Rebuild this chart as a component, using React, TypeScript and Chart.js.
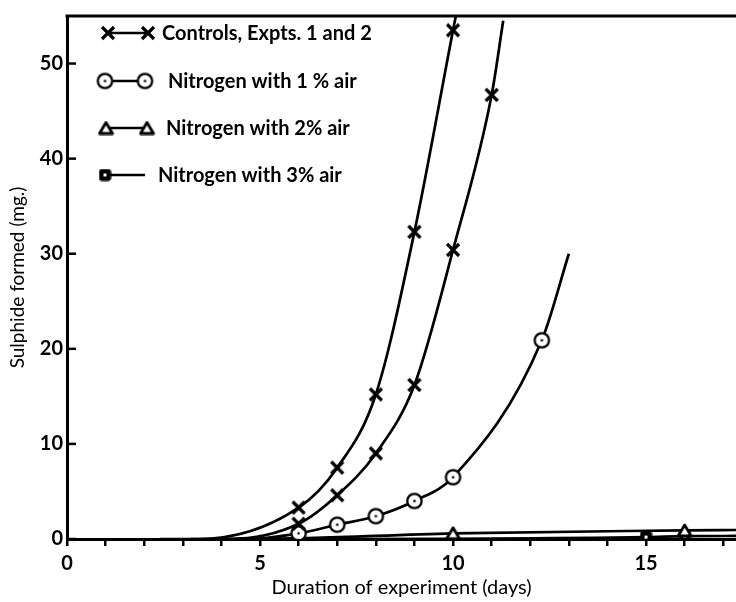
import { useEffect, useRef } from 'react';
import { Chart, registerables } from 'chart.js';

Chart.register(...registerables);

// ---- data ----
// Controls, Expt. 1 (upper curve)
const ctrl1Days = [6, 7, 8, 9, 10];
const ctrl1Sulphide = [3.3, 7.5, 15.2, 32.3, 53.5];
const ctrl1CurveStart = 3.4;
const ctrl1CurveEnd = [10.12, 56];
// Controls, Expt. 2 (lower curve)
const ctrl2Days = [6, 7, 8, 9, 10, 11];
const ctrl2Sulphide = [1.6, 4.6, 9.0, 16.2, 30.4, 46.7];
const ctrl2CurveStart = 4.2;
const ctrl2CurveEnd = [11.3, 54.5];
// Nitrogen with 1% air
const n1Days = [6, 7, 8, 9, 10, 12.3];
const n1Sulphide = [0.6, 1.5, 2.4, 4.0, 6.5, 20.9];
const n1CurveStart = 4.7;
const n1CurveEnd = [13, 30];
// Nitrogen with 2% air
const n2Days = [10, 16];
const n2Sulphide = [0.6, 0.9];
const n2CurveStart = 5.0;
const n2CurveEnd = [17.4, 0.95];
// Nitrogen with 3% air
const n3Days = [15, 16];
const n3Sulphide = [0.2, 0.3];
const n3CurveStart = 5.4;
const n3CurveEnd = [17.4, 0.32];

const legendLabels = [
  'Controls, Expts. 1 and 2',
  'Nitrogen with 1 % air',
  'Nitrogen with 2% air',
  'Nitrogen with 3% air',
];
const xTitle = 'Duration of experiment (days)';
const yTitle = 'Sulphide formed (mg.)';
const xMin = 0;
const xMax = 17.33;
const yMin = 0;
const yMax = 55;

const FONT = 'Lato, "Open Sans", sans-serif';

function makeCanvas(w: number, h: number, draw: (c: CanvasRenderingContext2D) => void) {
  const cv = document.createElement('canvas');
  cv.width = w;
  cv.height = h;
  const c = cv.getContext('2d')!;
  draw(c);
  return cv;
}

function markers() {
  const cross = makeCanvas(16, 16, (c) => {
    c.strokeStyle = '#000';
    c.lineWidth = 3.2;
    c.lineCap = 'butt';
    c.beginPath();
    c.moveTo(2, 2);
    c.lineTo(14, 14);
    c.moveTo(14, 2);
    c.lineTo(2, 14);
    c.stroke();
  });
  const circle = makeCanvas(19, 19, (c) => {
    c.fillStyle = '#fff';
    c.strokeStyle = '#000';
    c.lineWidth = 2.3;
    c.beginPath();
    c.arc(9.5, 9.5, 7.2, 0, Math.PI * 2);
    c.fill();
    c.stroke();
    c.fillStyle = '#000';
    c.beginPath();
    c.arc(9.5, 9.5, 1.3, 0, Math.PI * 2);
    c.fill();
  });
  const tri = makeCanvas(17, 15, (c) => {
    c.fillStyle = '#fff';
    c.strokeStyle = '#000';
    c.lineWidth = 2.8;
    c.lineJoin = 'round';
    c.beginPath();
    c.moveTo(8.5, 2);
    c.lineTo(15, 13);
    c.lineTo(2, 13);
    c.closePath();
    c.fill();
    c.stroke();
  });
  const square = makeCanvas(13, 13, (c) => {
    c.fillStyle = '#000';
    c.beginPath();
    (c as any).roundRect(0.5, 0.5, 12, 12, 3);
    c.fill();
    c.fillStyle = '#fff';
    c.fillRect(5, 5, 3, 3);
  });
  return { cross, circle, tri, square };
}

function series(days: number[], vals: number[], start: number, end: number[]) {
  const pts = [{ x: start - 1, y: 0 }, { x: start, y: 0 }];
  days.forEach((d, i) => pts.push({ x: d, y: vals[i] }));
  pts.push({ x: end[0], y: end[1] });
  return pts;
}

export default function App() {
  const ref = useRef<HTMLCanvasElement>(null);
  useEffect(() => {
    const m = markers();
    const radius = (ctx: any) => {
      const n = ctx.dataset.data.length;
      return ctx.dataIndex < 2 || ctx.dataIndex === n - 1 ? 0 : 5;
    };
    const mkDs = (label: string, data: any[], style: any) => ({
      label,
      data,
      borderColor: '#000',
      backgroundColor: '#fff',
      borderWidth: 2.7,
      cubicInterpolationMode: 'monotone' as const,
      pointStyle: style,
      pointRadius: radius,
      pointHoverRadius: radius,
    });

    const legendPlugin = {
      id: 'insideLegend',
      afterDraw(chart: any) {
        const c: CanvasRenderingContext2D = chart.ctx;
        const { left, right, top } = chart.chartArea;
        c.save();
        // top frame line
        c.strokeStyle = '#000';
        c.lineWidth = 3;
        c.beginPath();
        c.moveTo(left - 1.5, top);
        c.lineTo(right, top);
        c.stroke();
        // inside y ticks
        const ys = chart.scales.y;
        c.lineWidth = 2.5;
        ys.ticks.forEach((t: any) => {
          const py = ys.getPixelForValue(t.value);
          c.beginPath();
          c.moveTo(left, py);
          c.lineTo(left + 9, py);
          c.stroke();
        });
        // legend
        const rows = [
          { y: 33, a: 108, b: 148, tx: 162, img: m.cross, second: true },
          { y: 81, a: 105, b: 145, tx: 168, img: m.circle, second: true },
          { y: 128, a: 106, b: 147, tx: 166, img: m.tri, second: true },
          { y: 175, a: 105, b: 145, tx: 158, img: m.square, second: false },
        ];
        c.font = `bold 20px ${FONT}`;
        c.fillStyle = '#000';
        c.textBaseline = 'middle';
        rows.forEach((r, i) => {
          c.lineWidth = 2.5;
          c.beginPath();
          c.moveTo(r.a, r.y);
          c.lineTo(r.b, r.y);
          c.stroke();
          c.drawImage(r.img, r.a - r.img.width / 2, r.y - r.img.height / 2);
          if (r.second) c.drawImage(r.img, r.b - r.img.width / 2, r.y - r.img.height / 2);
          c.fillText(legendLabels[i], r.tx, r.y + 1);
        });
        c.restore();
      },
    };

    const chart = new Chart(ref.current!, {
      type: 'line',
      data: {
        datasets: [
          mkDs('Controls, Expt. 1', series(ctrl1Days, ctrl1Sulphide, ctrl1CurveStart, ctrl1CurveEnd), m.cross),
          mkDs('Controls, Expt. 2', series(ctrl2Days, ctrl2Sulphide, ctrl2CurveStart, ctrl2CurveEnd), m.cross),
          mkDs('Nitrogen with 1% air', series(n1Days, n1Sulphide, n1CurveStart, n1CurveEnd), m.circle),
          mkDs('Nitrogen with 2% air', series(n2Days, n2Sulphide, n2CurveStart, n2CurveEnd), m.tri),
          mkDs('Nitrogen with 3% air', series(n3Days, n3Sulphide, n3CurveStart, n3CurveEnd), m.square),
        ],
      },
      options: {
        animation: false,
        responsive: false,
        devicePixelRatio: 1,
        layout: { padding: { top: 10, left: 0, right: 0, bottom: 0 } },
        plugins: { legend: { display: false }, tooltip: { enabled: false } },
        scales: {
          x: {
            type: 'linear',
            position: 'bottom',
            min: xMin,
            max: xMax,
            afterFit: (s: any) => { s.height = 63; },
            ticks: {
              stepSize: 1,
              includeBounds: false,
              autoSkip: false,
              maxRotation: 0,
              padding: 6,
              color: '#000',
              font: { family: FONT, size: 20, weight: 'bold' },
              callback: (v: any) => (Number(v) % 5 === 0 ? String(v) : ''),
            },
            grid: { drawOnChartArea: false, drawTicks: true, tickLength: 7, color: '#000', lineWidth: 2.5 },
            border: { display: true, color: '#000', width: 3 },
            title: {
              display: true,
              text: xTitle,
              color: '#000',
              font: { family: FONT, size: 20 },
              padding: { top: 0, bottom: 2 },
            },
          },
          y: {
            type: 'linear',
            min: yMin,
            max: yMax,
            afterFit: (s: any) => { s.width = 67; },
            ticks: {
              stepSize: 10,
              includeBounds: false,
              padding: 4,
              color: '#000',
              font: { family: FONT, size: 20, weight: 'bold' },
            },
            grid: { drawOnChartArea: false, drawTicks: false },
            border: { display: true, color: '#000', width: 3 },
            title: {
              display: true,
              text: yTitle,
              color: '#000',
              font: { family: FONT, size: 19 },
              padding: { top: 6, bottom: 0 },
            },
          },
        },
      } as any,
      plugins: [legendPlugin],
    });
    return () => chart.destroy();
  }, []);
  return (
    <div style={{ position: 'fixed', left: 0, top: 0, width: 736, height: 602, background: '#fff' }}>
      <canvas ref={ref} width={736} height={602} style={{ display: 'block' }} />
    </div>
  );
}
